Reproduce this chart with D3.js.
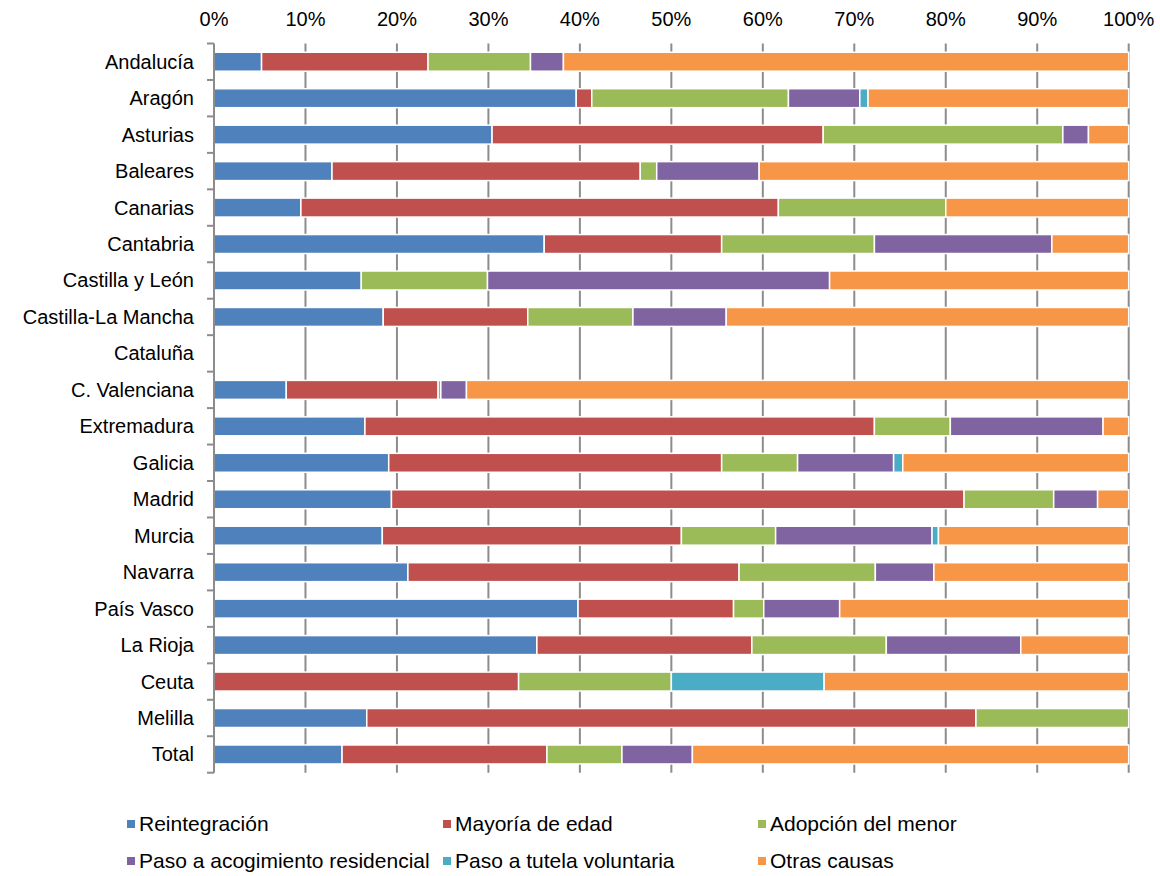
<!DOCTYPE html>
<html>
<head>
<meta charset="utf-8">
<script src="https://cdn.jsdelivr.net/npm/d3@7"></script>
<style>
  html, body { margin: 0; padding: 0; background: #fff; }
  svg { display: block; font-family: "Liberation Sans", Arial, sans-serif; }
</style>
</head>
<body>
<svg id="chart" width="1160" height="876"></svg>
<script>
const categories = ["Andalucía","Aragón","Asturias","Baleares","Canarias","Cantabria","Castilla y León","Castilla-La Mancha","Cataluña","C. Valenciana","Extremadura","Galicia","Madrid","Murcia","Navarra","País Vasco","La Rioja","Ceuta","Melilla","Total"];
const seriesNames = ["Reintegración","Mayoría de edad","Adopción del menor","Paso a acogimiento residencial","Paso a tutela voluntaria","Otras causas"];
const reintegracion = [5.2,39.6,30.4,12.9,9.5,36.1,16.1,18.5,0,7.9,16.5,19.1,19.4,18.4,21.2,39.8,35.3,0,16.7,14.0];
const mayoriaEdad   = [18.2,1.7,36.2,33.7,52.2,19.4,0,15.8,0,16.6,55.7,36.4,62.6,32.7,36.2,17.0,23.5,33.3,66.6,22.4];
const adopcion      = [11.2,21.5,26.2,1.8,18.3,16.7,13.8,11.5,0,0.3,8.3,8.3,9.8,10.3,14.9,3.3,14.7,16.7,16.7,8.2];
const acogResid     = [3.6,7.8,2.8,11.2,0,19.4,37.4,10.2,0,2.8,16.7,10.5,4.8,17.1,6.4,8.3,14.7,0,0,7.7];
const tutelaVol     = [0,0.9,0,0,0,0,0,0,0,0,0,1.0,0,0.7,0,0,0,16.7,0,0];
const otrasCausas   = [61.8,28.5,4.4,40.4,20.0,8.4,32.7,44.0,0,72.4,2.8,24.7,3.4,20.8,21.3,31.6,11.8,33.3,0,47.7];
const xTicks = [0,10,20,30,40,50,60,70,80,90,100];
const colors = ["#4F81BD","#C0504D","#9BBB59","#8064A2","#4BACC6","#F79646"];

const seriesValues = [reintegracion, mayoriaEdad, adopcion, acogResid, tutelaVol, otrasCausas];
const rows = categories.map((c, i) => {
  const r = { category: c };
  seriesNames.forEach((s, k) => r[s] = seriesValues[k][i]);
  return r;
});
rows.forEach(r => {
  const sum = d3.sum(seriesNames, s => r[s]);
  if (sum > 0) seriesNames.forEach(s => r[s] = r[s] / sum * 100);
});

const svg = d3.select("#chart");
const mLeft = 214, mRight = 1128.7, mTop = 43.5, mBottom = 772.7;

const x = d3.scaleLinear().domain([0, 100]).range([mLeft, mRight]);
const y = d3.scaleBand().domain(categories).range([mTop, mBottom]).paddingInner(0.48).paddingOuter(0.24);
const color = d3.scaleOrdinal().domain(seriesNames).range(colors);

// gridlines
svg.append("g").selectAll("line").data(xTicks.slice(1)).join("line")
  .attr("x1", d => x(d)).attr("x2", d => x(d))
  .attr("y1", mTop).attr("y2", mBottom)
  .attr("stroke", "#8c8c8c").attr("stroke-width", 2);

// top tick labels
svg.append("g").selectAll("text").data(xTicks).join("text")
  .attr("x", d => x(d)).attr("y", 26)
  .attr("text-anchor", "middle")
  .attr("font-size", 20).attr("fill", "#000")
  .text(d => d + "%");

// bars
const stacked = d3.stack().keys(seriesNames)(rows);
svg.append("g").selectAll("g").data(stacked).join("g")
  .attr("fill", d => color(d.key))
  .selectAll("rect").data(d => d.filter(p => p[1] - p[0] > 0)).join("rect")
  .attr("x", d => x(d[0]))
  .attr("width", d => x(d[1]) - x(d[0]))
  .attr("y", d => y(d.data.category))
  .attr("height", y.bandwidth())
  .attr("stroke", "#fff").attr("stroke-width", 1.5);

// left axis
const yAxisG = svg.append("g");
yAxisG.append("line").attr("x1", mLeft).attr("x2", mLeft).attr("y1", mTop).attr("y2", mBottom)
  .attr("stroke", "#8c8c8c").attr("stroke-width", 2);
const bounds = d3.range(categories.length + 1).map(i => mTop + i * y.step());
yAxisG.selectAll("line.tick").data(bounds).join("line").attr("class", "tick")
  .attr("x1", mLeft - 7).attr("x2", mLeft).attr("y1", d => d).attr("y2", d => d)
  .attr("stroke", "#8c8c8c").attr("stroke-width", 2);
yAxisG.selectAll("text").data(categories).join("text")
  .attr("x", 194).attr("y", d => y(d) + y.bandwidth() / 2)
  .attr("dy", "0.35em")
  .attr("text-anchor", "end")
  .attr("font-size", 20).attr("fill", "#000")
  .text(d => d);

// legend
const legendPos = [[127, 824],[443, 824],[758, 824],[127, 861],[443, 861],[758, 861]];
const lg = svg.append("g").selectAll("g").data(seriesNames).join("g")
  .attr("transform", (d, i) => `translate(${legendPos[i][0]},${legendPos[i][1]})`);
lg.append("rect").attr("x", 0).attr("y", -4).attr("width", 8).attr("height", 8).attr("fill", d => color(d));
lg.append("text").attr("x", 12).attr("y", 0).attr("dy", "0.35em")
  .attr("font-size", 21).attr("fill", "#000").text(d => d);
</script>
</body>
</html>
